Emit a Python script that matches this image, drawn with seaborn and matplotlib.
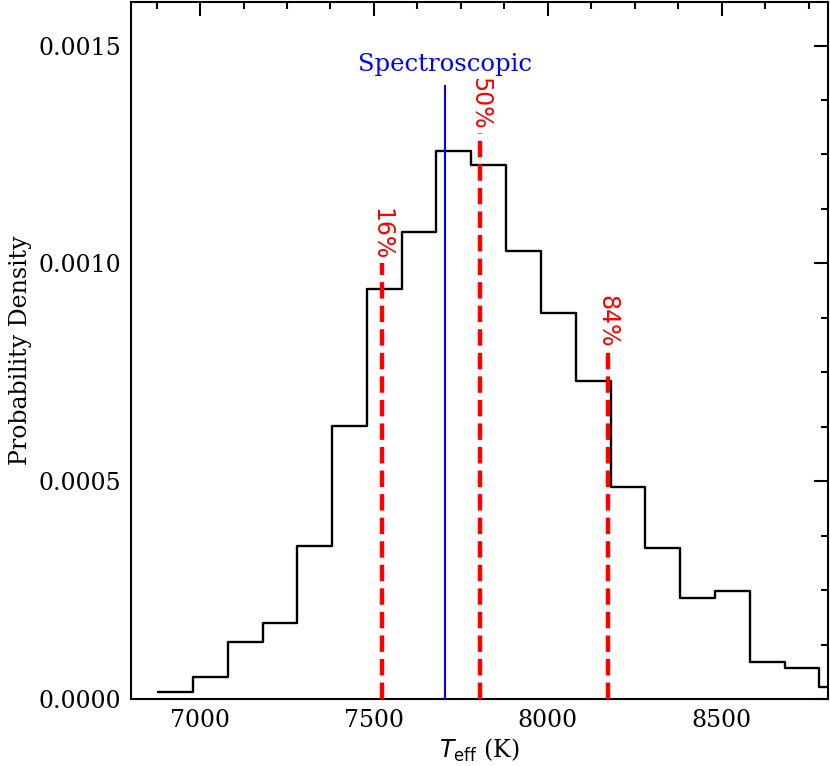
import numpy as np
import pandas as pd
import matplotlib
matplotlib.use("Agg")
import matplotlib.pyplot as plt
from matplotlib.ticker import MultipleLocator
import seaborn as sns

# ---- data ----
bin_edges = [6880, 6980, 7080, 7180, 7280, 7380, 7480, 7580, 7680, 7780, 7881,
             7981, 8081, 8181, 8281, 8381, 8481, 8581, 8681, 8781, 8881]
density = [0.000015, 0.000051, 0.000130, 0.000175, 0.000351, 0.000627,
           0.000941, 0.001071, 0.001259, 0.001226, 0.001028, 0.000887,
           0.000731, 0.000486, 0.000346, 0.000232, 0.000247, 0.0000855,
           0.0000717, 0.0000268]
pct_labels = ["16%", "50%", "84%"]
pct_values = [7522, 7805, 8172]
pct_heights = [0.0010, 0.0013, 0.0008]
spec_value = 7705
spec_height = 0.00141
spec_label = "Spectroscopic"

sns.set_style("white")
plt.rcParams["font.family"] = ["DejaVu Serif"]
plt.rcParams["mathtext.fontset"] = "dejavusans"
plt.rcParams["font.size"] = 17
for k in ["text.color", "axes.labelcolor", "xtick.color", "ytick.color", "axes.edgecolor"]:
    plt.rcParams[k] = "black"

fig = plt.figure(figsize=(8.3, 7.66), dpi=100)
ax = fig.add_axes([130.5 / 830, 1 - 699 / 766, (828 - 130.5) / 830, (699 - 2) / 766])

centers = [(bin_edges[i] + bin_edges[i + 1]) / 2 for i in range(len(density))]
df = pd.DataFrame({"teff": centers, "w": density})
sns.histplot(data=df, x="teff", weights="w", bins=bin_edges, element="step",
             fill=False, color="black", linewidth=1.7, stat="count", ax=ax)

ax.vlines(spec_value, 0, spec_height, color="blue", linewidth=1.5, zorder=3)
ax.text(spec_value, spec_height + 0.00002, spec_label, color="blue",
        ha="center", va="bottom", fontsize=17.5)

for lab, v, h in zip(pct_labels, pct_values, pct_heights):
    ax.plot([v, v], [0, h], color="red", linestyle="--", linewidth=3.2, zorder=4)
    ax.text(v, h + 0.000008, lab, color="red", rotation=270, ha="center",
            va="bottom", fontsize=17, family=["DejaVu Sans"])

ax.set_xlim(6800, 8806)
ax.set_ylim(0, 0.0016)
ax.xaxis.set_major_locator(MultipleLocator(500))
ax.xaxis.set_minor_locator(MultipleLocator(125))
ax.yaxis.set_major_locator(MultipleLocator(0.0005))
ax.yaxis.set_minor_locator(MultipleLocator(0.000125))
ax.yaxis.set_major_formatter(matplotlib.ticker.FormatStrFormatter("%.4f"))
ax.tick_params(which="both", direction="in", top=True, right=True, width=1.5,
               color="black", labelcolor="black")
ax.tick_params(which="major", length=10, labelsize=17, pad=7)
ax.tick_params(which="minor", length=5)
for s in ax.spines.values():
    s.set_linewidth(1.5)
    s.set_color("black")

ax.set_xlabel(r"$T_{\rm eff}$ (K)", fontsize=17, color="black")
ax.set_ylabel("Probability Density", fontsize=17, color="black")

fig.savefig("out.png", dpi=100)
